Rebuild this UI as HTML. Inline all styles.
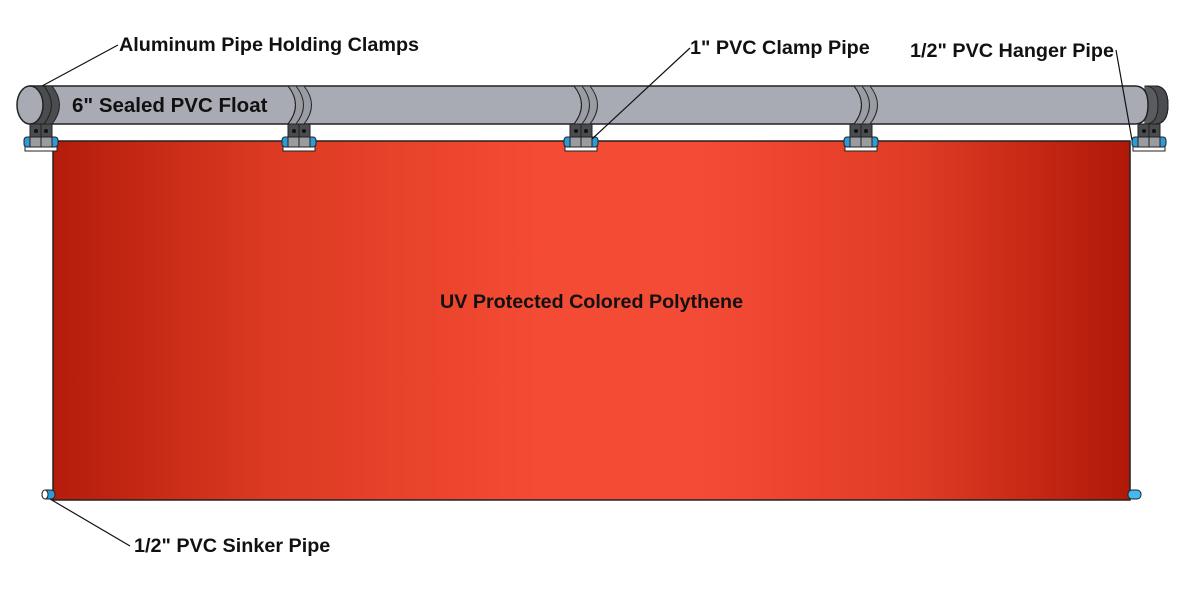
<!DOCTYPE html>
<html><head><style>body{margin:0;background:#fff}svg{display:block}text{font-family:"Liberation Sans",sans-serif;font-weight:bold;fill:#111}</style></head><body>
<svg width="1191" height="601" viewBox="0 0 1191 601" xmlns="http://www.w3.org/2000/svg">
<defs>
<linearGradient id="cg" x1="0" x2="1" y1="0" y2="0">
<stop offset="0" stop-color="#b41c0b"/><stop offset="0.2" stop-color="#dc3a22"/><stop offset="0.45" stop-color="#f44b34"/><stop offset="0.6" stop-color="#f44b36"/><stop offset="0.8" stop-color="#e03c25"/><stop offset="1" stop-color="#b01808"/>
</linearGradient>
<g id="clamp">
<rect x="-11" y="124" width="22" height="16" fill="#4a4c50" stroke="#222" stroke-width="1"/>
<line x1="0" y1="124" x2="0" y2="140" stroke="#222"/>
<circle cx="-5" cy="131" r="2" fill="#111"/><circle cx="5" cy="131" r="2" fill="#111"/>
<rect x="-16" y="141" width="32" height="10" fill="#fff" stroke="#222"/>
<rect x="-17" y="137" width="34" height="10" rx="3" fill="#2e9ad6" stroke="#222"/>
<rect x="-11" y="137" width="22" height="10" fill="#9a9ca0" stroke="#222"/>
<line x1="0" y1="137" x2="0" y2="147" stroke="#222"/>
</g>
<g id="band">
<path d="M-10 86 h16 q15 19 0 38 h-16 q15 -19 0 -38z" fill="#9a9ca3" stroke="#222"/>
<path d="M-2 86 q15 19 0 38" fill="none" stroke="#222"/>
<path d="M-10 86 q15 19 0 38" fill="none" stroke="#222"/>
</g>
</defs>
<rect x="53" y="141" width="1077" height="359" fill="url(#cg)" stroke="#222" stroke-width="1.5"/>
<path d="M1155 86 q13 0 13 19 q0 19 -13 19z" fill="#4a4c50" stroke="#222"/>
<path d="M1145 86 h10 q13 0 13 19 q0 19 -13 19 h-10z" fill="#4a4c50" stroke="#222"/>
<path d="M1155 86 q13 0 13 19 q0 19 -13 19" fill="none" stroke="#222"/>
<path d="M1145 86 q13 0 13 19 q0 19 -13 19" fill="#5a5c60" stroke="#222"/>
<path d="M30 86 H1135 q13 0 13 19 q0 19 -13 19 H30z" fill="#a9abb4" stroke="#222" stroke-width="1.5"/>
<path d="M30 86 h14 q15 19 0 38 h-14z" fill="#4a4c50" stroke="#222"/>
<path d="M44 86 h8 q15 19 0 38 h-8 q15 -19 0 -38z" fill="#4a4c50" stroke="#222"/>
<ellipse cx="30" cy="105" rx="13" ry="19" fill="#a9abb4" stroke="#222" stroke-width="1.5"/>
<use href="#band" x="298" y="0"/>
<use href="#band" x="584" y="0"/>
<use href="#band" x="864" y="0"/>
<use href="#clamp" x="41" y="0"/>
<use href="#clamp" x="299" y="0"/>
<use href="#clamp" x="581" y="0"/>
<use href="#clamp" x="861" y="0"/>
<use href="#clamp" x="1149" y="0"/>
<rect x="42" y="490" width="13" height="9" rx="4" fill="#2e9ad6" stroke="#222"/>
<ellipse cx="45" cy="494.5" rx="3" ry="4.5" fill="#fff" stroke="#222"/>
<rect x="1128" y="490" width="13" height="9" rx="4" fill="#44b8f0" stroke="#222"/>
<g stroke="#111" stroke-width="1.2" fill="none">
<line x1="118" y1="45" x2="42" y2="86"/>
<line x1="690" y1="48" x2="592" y2="139"/>
<line x1="1116" y1="50" x2="1132" y2="140"/>
<line x1="130" y1="546" x2="50" y2="499"/>
</g>
<text x="119" y="51" font-size="19.8">Aluminum Pipe Holding Clamps</text>
<text x="690" y="54" font-size="19.8">1" PVC Clamp Pipe</text>
<text x="910" y="57" font-size="19.8">1/2" PVC Hanger Pipe</text>
<text x="72" y="112" font-size="20.5">6" Sealed PVC Float</text>
<text x="440" y="308" font-size="19.7">UV Protected Colored Polythene</text>
<text x="134" y="552" font-size="19.8">1/2" PVC Sinker Pipe</text>
</svg>
</body></html>
